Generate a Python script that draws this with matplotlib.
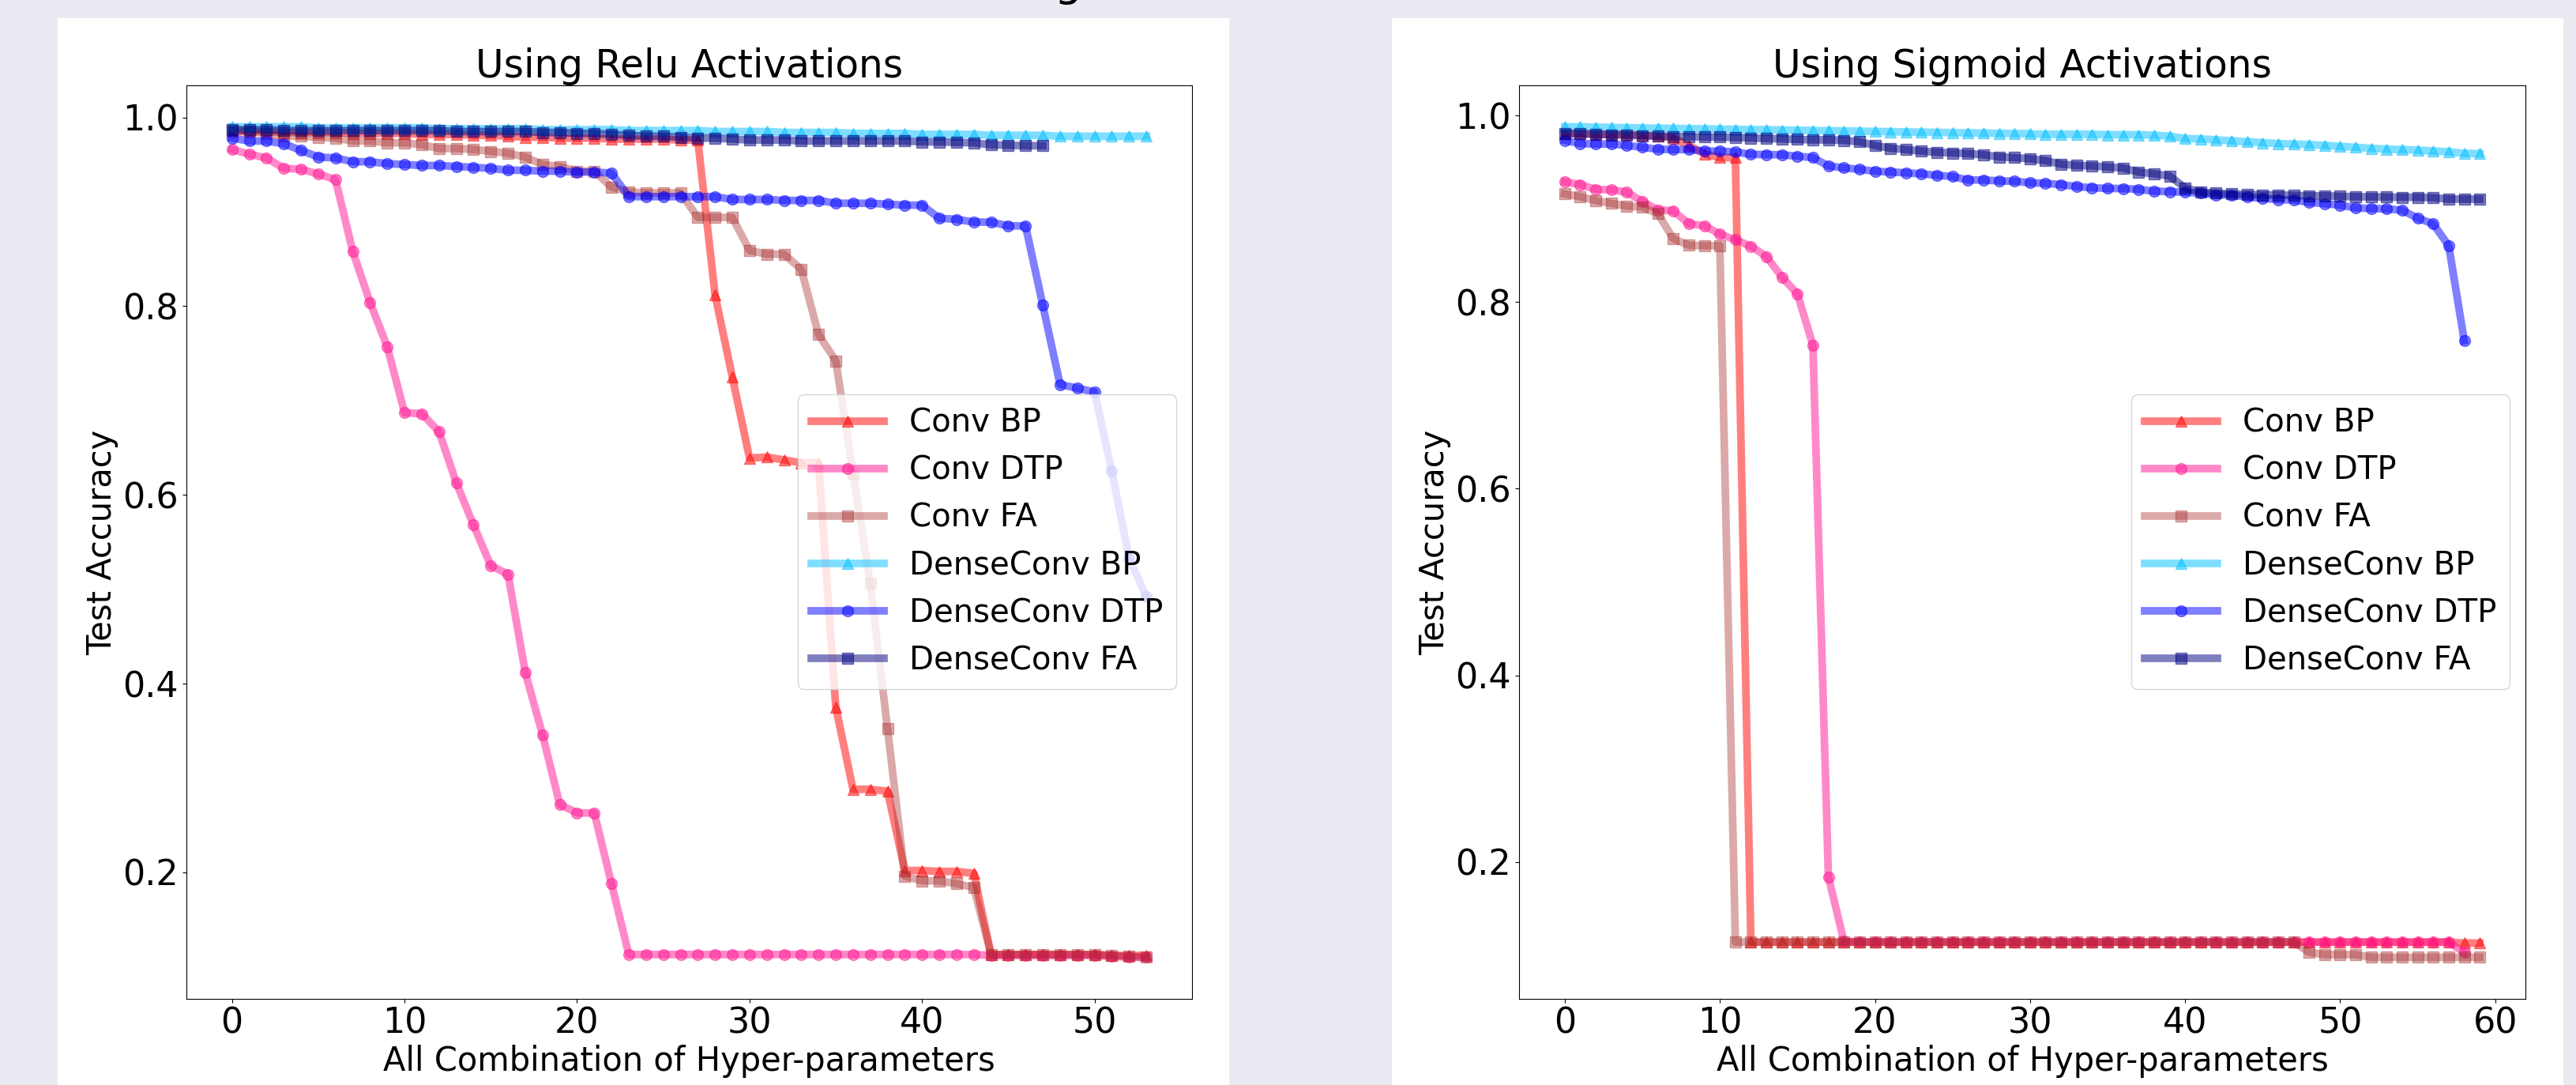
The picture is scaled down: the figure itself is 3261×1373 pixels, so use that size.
import matplotlib
matplotlib.use("Agg")
import matplotlib.pyplot as plt

# Relu activations, 54 hyper-parameter combinations (DenseConv FA has 48)
relu_conv_bp = [0.985, 0.985, 0.985, 0.984, 0.984, 0.984, 0.984, 0.983, 0.983, 0.983,
                0.983, 0.982, 0.982, 0.982, 0.981, 0.981, 0.980, 0.979, 0.979, 0.978,
                0.978, 0.978, 0.977, 0.977, 0.977, 0.977, 0.976, 0.976, 0.812, 0.725,
                0.639, 0.640, 0.637, 0.634, 0.634, 0.375, 0.288, 0.288, 0.286, 0.202,
                0.202, 0.201, 0.201, 0.199, 0.113, 0.113, 0.113, 0.113, 0.113, 0.113,
                0.113, 0.112, 0.112, 0.112]
relu_conv_dtp = [0.966, 0.961, 0.957, 0.946, 0.945, 0.940, 0.934, 0.858, 0.804, 0.757,
                 0.687, 0.686, 0.667, 0.613, 0.568, 0.525, 0.516, 0.412, 0.346, 0.272,
                 0.263, 0.263, 0.188, 0.113, 0.113, 0.113, 0.113, 0.113, 0.113, 0.113,
                 0.113, 0.113, 0.113, 0.113, 0.113, 0.113, 0.113, 0.113, 0.113, 0.113,
                 0.113, 0.113, 0.113, 0.113, 0.112, 0.112, 0.112, 0.112, 0.112, 0.112,
                 0.112, 0.111, 0.110, 0.110]
relu_conv_fa = [0.986, 0.985, 0.983, 0.980, 0.980, 0.979, 0.978, 0.975, 0.975, 0.973,
                0.973, 0.971, 0.967, 0.967, 0.966, 0.964, 0.962, 0.958, 0.950, 0.948,
                0.943, 0.943, 0.926, 0.921, 0.920, 0.920, 0.920, 0.894, 0.894, 0.894,
                0.859, 0.855, 0.855, 0.839, 0.770, 0.742, 0.623, 0.506, 0.352, 0.196,
                0.191, 0.191, 0.188, 0.184, 0.113, 0.113, 0.113, 0.113, 0.113, 0.113,
                0.113, 0.112, 0.111, 0.110]
relu_dense_bp = [0.990, 0.990, 0.990, 0.990, 0.990, 0.989, 0.989, 0.989, 0.989, 0.989,
                 0.989, 0.989, 0.988, 0.988, 0.988, 0.988, 0.988, 0.988, 0.987, 0.987,
                 0.987, 0.987, 0.987, 0.986, 0.986, 0.986, 0.986, 0.986, 0.985, 0.985,
                 0.985, 0.985, 0.984, 0.984, 0.984, 0.984, 0.983, 0.983, 0.983, 0.983,
                 0.982, 0.982, 0.982, 0.982, 0.981, 0.981, 0.981, 0.981, 0.980, 0.980,
                 0.980, 0.980, 0.980, 0.980]
relu_dense_dtp = [0.978, 0.975, 0.975, 0.972, 0.965, 0.958, 0.957, 0.953, 0.953, 0.951,
                  0.950, 0.949, 0.949, 0.948, 0.947, 0.946, 0.944, 0.944, 0.943, 0.943,
                  0.942, 0.942, 0.941, 0.916, 0.916, 0.916, 0.916, 0.916, 0.916, 0.913,
                  0.913, 0.913, 0.912, 0.912, 0.912, 0.909, 0.909, 0.909, 0.908, 0.907,
                  0.907, 0.893, 0.892, 0.889, 0.889, 0.885, 0.885, 0.801, 0.717, 0.713,
                  0.709, 0.625, 0.533, 0.492]
relu_dense_fa = [0.987, 0.987, 0.987, 0.986, 0.986, 0.986, 0.986, 0.986, 0.986, 0.986,
                 0.986, 0.986, 0.986, 0.985, 0.985, 0.985, 0.985, 0.985, 0.984, 0.984,
                 0.983, 0.983, 0.982, 0.981, 0.980, 0.980, 0.979, 0.978, 0.978, 0.977,
                 0.976, 0.976, 0.976, 0.975, 0.975, 0.975, 0.975, 0.975, 0.975, 0.975,
                 0.974, 0.974, 0.9735, 0.973, 0.971, 0.9705, 0.970, 0.970]

# Sigmoid activations, 60 combinations (DTP runs have 59)
sig_conv_bp = [0.981, 0.981, 0.980, 0.980, 0.980, 0.979, 0.978, 0.976, 0.968, 0.959,
               0.955, 0.955, 0.114, 0.114, 0.114, 0.114, 0.114, 0.114, 0.114, 0.114,
               0.114, 0.114, 0.114, 0.114, 0.114, 0.114, 0.114, 0.114, 0.114, 0.114,
               0.114, 0.114, 0.114, 0.114, 0.114, 0.114, 0.114, 0.114, 0.114, 0.114,
               0.114, 0.114, 0.114, 0.114, 0.114, 0.114, 0.114, 0.114, 0.114, 0.114,
               0.114, 0.114, 0.114, 0.114, 0.114, 0.114, 0.114, 0.114, 0.113, 0.113]
sig_conv_dtp = [0.929, 0.926, 0.921, 0.9205, 0.918, 0.908, 0.899, 0.898, 0.884, 0.882,
                0.873, 0.867, 0.860, 0.849, 0.827, 0.809, 0.754, 0.184, 0.115, 0.114,
                0.114, 0.114, 0.114, 0.114, 0.114, 0.114, 0.114, 0.114, 0.114, 0.114,
                0.114, 0.114, 0.114, 0.114, 0.114, 0.114, 0.114, 0.114, 0.114, 0.114,
                0.114, 0.114, 0.114, 0.114, 0.114, 0.114, 0.114, 0.114, 0.114, 0.114,
                0.114, 0.114, 0.114, 0.114, 0.114, 0.114, 0.114, 0.114, 0.103]
sig_conv_fa = [0.916, 0.913, 0.909, 0.906, 0.903, 0.902, 0.895, 0.868, 0.861, 0.8605,
               0.8605, 0.114, 0.114, 0.114, 0.114, 0.114, 0.114, 0.114, 0.114, 0.114,
               0.114, 0.114, 0.114, 0.114, 0.114, 0.114, 0.114, 0.114, 0.114, 0.114,
               0.114, 0.114, 0.114, 0.114, 0.114, 0.114, 0.114, 0.114, 0.114, 0.114,
               0.114, 0.114, 0.114, 0.114, 0.114, 0.114, 0.114, 0.114, 0.103, 0.1006,
               0.1006, 0.1006, 0.0977, 0.0977, 0.0977, 0.0977, 0.0977, 0.0977, 0.0977, 0.0977]
sig_dense_bp = [0.988, 0.988, 0.9875, 0.9873, 0.987, 0.9868, 0.9865, 0.9863, 0.986, 0.9858,
                0.9855, 0.9853, 0.985, 0.9848, 0.9845, 0.9843, 0.984, 0.9838, 0.9835, 0.9833,
                0.983, 0.9828, 0.9825, 0.9823, 0.982, 0.9818, 0.9815, 0.9813, 0.981, 0.9808,
                0.9805, 0.980, 0.980, 0.980, 0.980, 0.9795, 0.9795, 0.9795, 0.979, 0.978,
                0.9754, 0.975, 0.974, 0.973, 0.972, 0.971, 0.970, 0.9695, 0.969, 0.968,
                0.967, 0.966, 0.965, 0.964, 0.9636, 0.963, 0.962, 0.9613, 0.9595, 0.9593]
sig_dense_dtp = [0.9735, 0.970, 0.9695, 0.9695, 0.968, 0.966, 0.964, 0.9636, 0.9636, 0.962,
                 0.962, 0.961, 0.9585, 0.9582, 0.958, 0.9565, 0.955, 0.946, 0.944, 0.9424,
                 0.9404, 0.9395, 0.9387, 0.9376, 0.936, 0.9347, 0.931, 0.931, 0.930, 0.9297,
                 0.928, 0.9274, 0.926, 0.924, 0.9226, 0.922, 0.9218, 0.921, 0.919, 0.9185,
                 0.9178, 0.917, 0.915, 0.915, 0.9127, 0.9113, 0.910, 0.9095, 0.907, 0.9056,
                 0.904, 0.901, 0.9005, 0.900, 0.8986, 0.890, 0.884, 0.8604, 0.7587]
sig_dense_fa = [0.981, 0.9805, 0.980, 0.9795, 0.979, 0.9785, 0.978, 0.9777, 0.9775, 0.977,
                0.977, 0.9765, 0.976, 0.9755, 0.975, 0.9745, 0.974, 0.974, 0.9735, 0.972,
                0.968, 0.965, 0.9636, 0.962, 0.9607, 0.960, 0.9593, 0.958, 0.9557, 0.955,
                0.9537, 0.9517, 0.948, 0.9466, 0.946, 0.945, 0.9438, 0.9395, 0.9376, 0.9353,
                0.9226, 0.918, 0.917, 0.916, 0.9155, 0.915, 0.915, 0.9145, 0.914, 0.914,
                0.9135, 0.913, 0.913, 0.9127, 0.9125, 0.9125, 0.912, 0.9105, 0.9105, 0.9105]

labels = ["Conv BP", "Conv DTP", "Conv FA", "DenseConv BP", "DenseConv DTP", "DenseConv FA"]
colors = ["red", "deeppink", "brown", "deepskyblue", "blue", "navy"]
alphas = [0.5, 0.5, 0.4, 0.5, 0.5, 0.5]
markers = ["^", "o", "s", "^", "o", "s"]

relu_runs = [relu_conv_bp, relu_conv_dtp, relu_conv_fa, relu_dense_bp, relu_dense_dtp, relu_dense_fa]
sig_runs = [sig_conv_bp, sig_conv_dtp, sig_conv_fa, sig_dense_bp, sig_dense_dtp, sig_dense_fa]


def plot_panel(ax, runs, title):
    for vals, lab, col, a, m in zip(runs, labels, colors, alphas, markers):
        ax.plot(range(len(vals)), vals, color=col, alpha=a, marker=m,
                linewidth=7, markersize=10, label=lab)
    ax.set_title(title, fontsize=35)
    ax.set_xlabel("All Combination of Hyper-parameters", fontsize=30)
    ax.set_ylabel("Test Accuracy", fontsize=30)
    ax.set_yticks([0.2, 0.4, 0.6, 0.8, 1.0])
    ax.tick_params(labelsize=32)
    ax.legend(loc="center right", fontsize=29, numpoints=1, handlelength=2.3)


fig = plt.figure(figsize=(32.62, 13.73), dpi=100, facecolor="#EAEAF2")

# white panels behind each subplot
for x0 in (0.0224, 0.5402):
    bg = fig.add_axes([x0, 0.0, 0.4546, 0.9833], zorder=-1)
    bg.set_facecolor("white")
    bg.set_xticks([])
    bg.set_yticks([])
    for s in bg.spines.values():
        s.set_visible(False)

ax1 = fig.add_axes([0.0723, 0.0794, 0.3903, 0.8420])
ax2 = fig.add_axes([0.5895, 0.0794, 0.3906, 0.8420])

plot_panel(ax1, relu_runs, "Using Relu Activations")
plot_panel(ax2, sig_runs, "Using Sigmoid Activations")

# figure heading sits mostly above the canvas, only a descender shows
fig.text(0.4145, 1.0044, "g", fontsize=40, ha="center", va="baseline")

fig.savefig("out.png", dpi=100, facecolor=fig.get_facecolor())
